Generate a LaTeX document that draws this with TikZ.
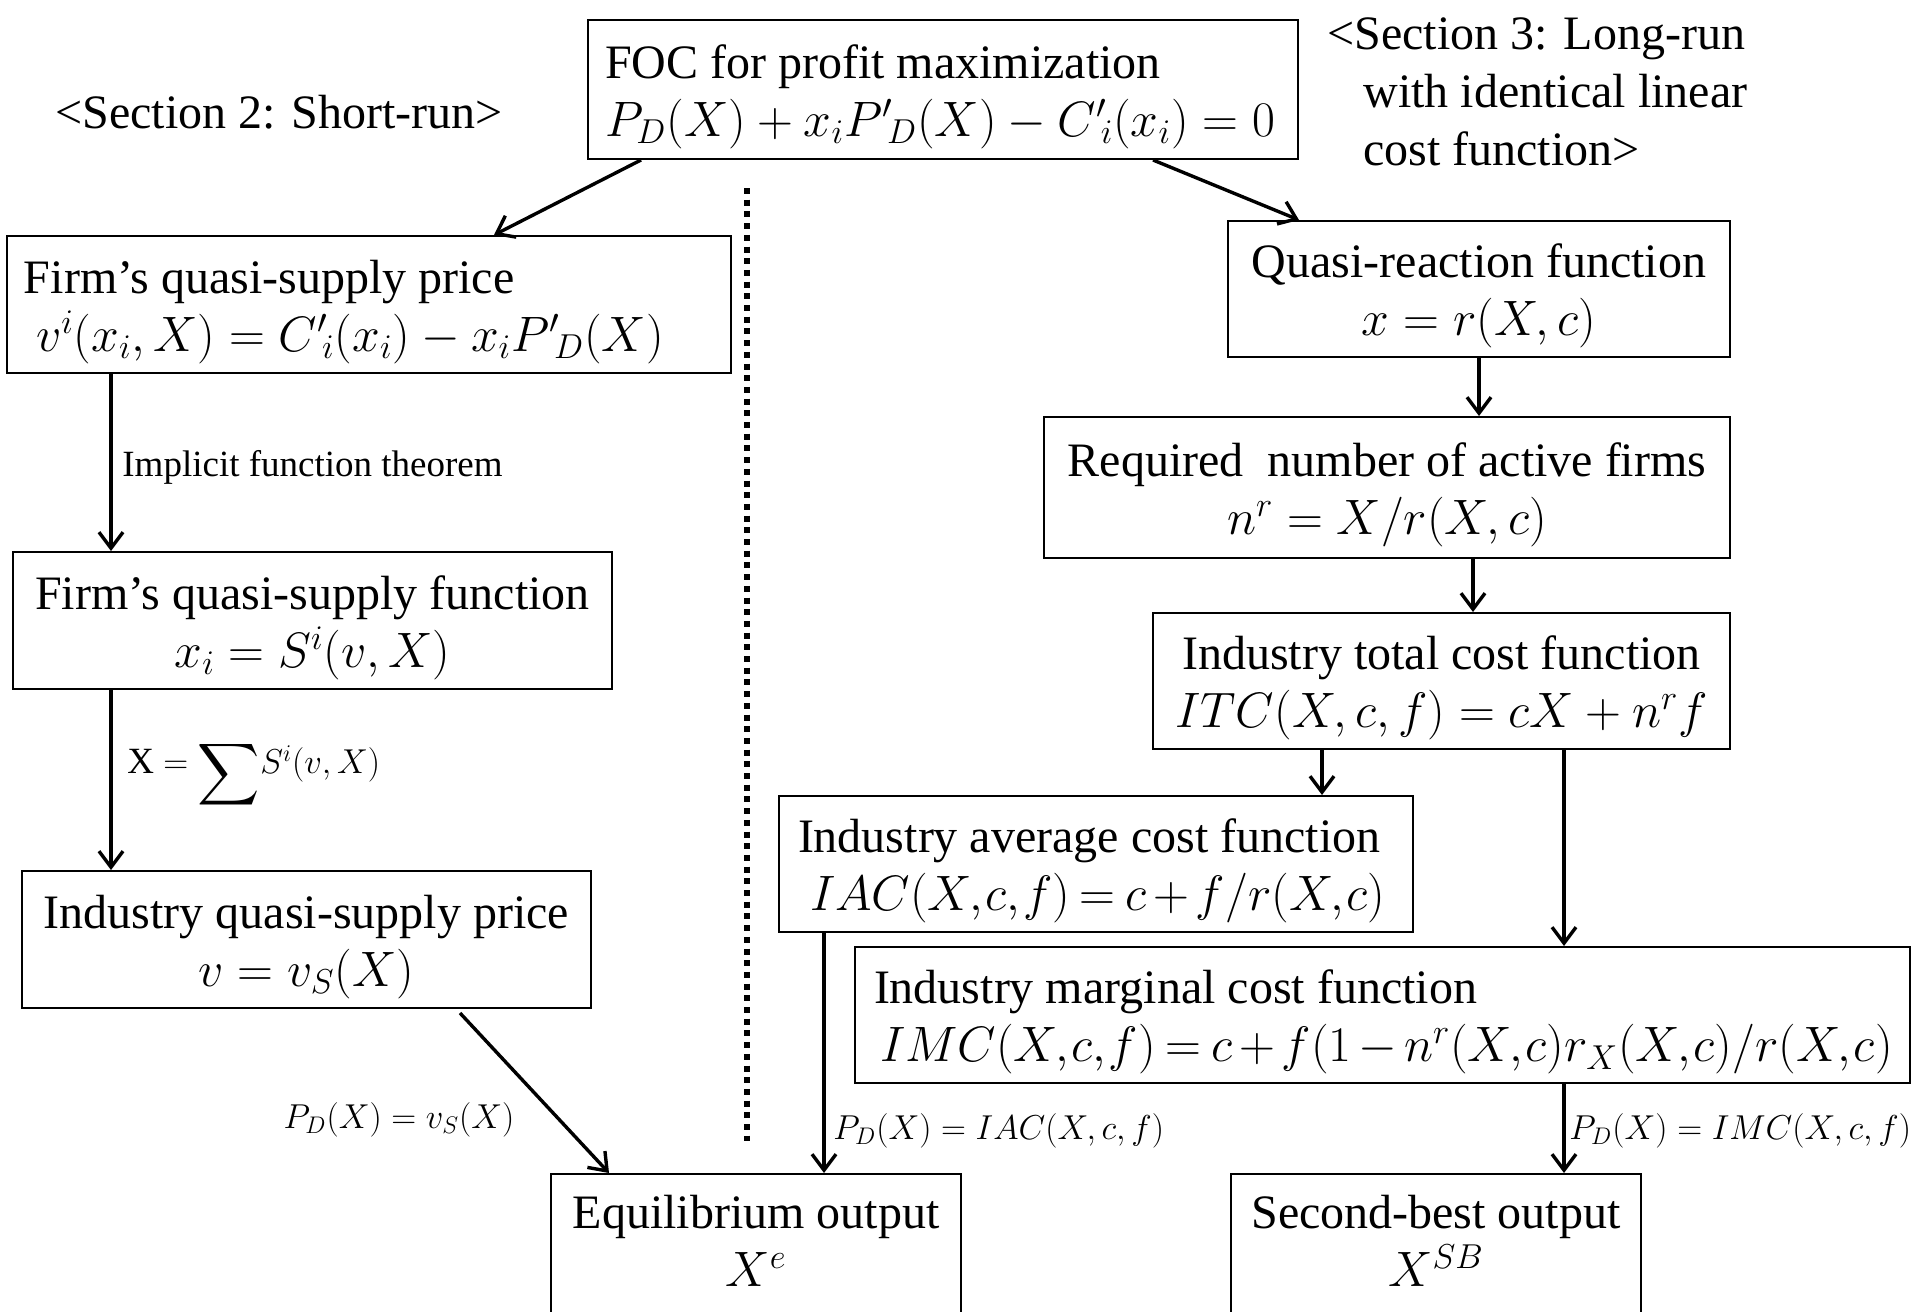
\documentclass[tikz,border=0pt]{standalone}
\usepackage{amsmath}
\usepackage{graphicx}
\usepackage{fontspec}
\setmainfont{Liberation Serif}
\usetikzlibrary{arrows.meta,calc}
\newcommand\mainsz{\fontsize{24}{29}\selectfont}
\newcommand\lblsz{\fontsize{18.5}{22}\selectfont}
\newcommand\topstrut{\rule{0pt}{24pt}}
\newcommand\tightmath{\thinmuskip=1mu \medmuskip=2.5mu \thickmuskip=3.5mu}
\begin{document}
\begin{tikzpicture}[x=0.5pt,y=-0.5pt,
  box/.style={draw, line width=1pt, font=\mainsz, inner ysep=0pt},
  lbox/.style={box, align=flush left, inner xsep=8.5pt},
  cbox/.style={box, align=center, inner xsep=0pt},
  arr/.style={line width=1.7pt, -{Straight Barb[length=8pt,width=12pt]}},
  lbl/.style={font=\lblsz, inner sep=0pt},
  sect/.style={font=\mainsz, inner sep=0pt, align=left}]
\clip (0,0) rectangle (1920,1311);
\fill[white] (0,0) rectangle (1920,1311);

% section titles
\node[sect] (sec2) at (279,112) {<Section 2: Short-run>};
\node[sect, anchor=west] (sec3) at (1327,92) {<Section 3: Long-run\\ \hspace*{18pt}with identical linear\\ \hspace*{18pt}cost function>};

% boxes
\node[lbox, text width=338pt, minimum height=69.5pt] (foc) at (943,89.5)
  {\topstrut FOC for profit maximization\\ \mbox{$P_D(X) + x_i{P'}_{\!D}(X) - {C'}_{\!i}(x_i) = 0$}};
\node[lbox, text width=345pt, minimum height=68.5pt] (fprice) at (369,304.5)
  {\topstrut Firm’s quasi-supply price\\ \mbox{\hspace*{6pt}$v^i(x_i,X) = {C'}_{\!i}(x_i) - x_i{P'}_{\!D}(X)$}};
\node[cbox, minimum width=299.5pt, minimum height=68.5pt] (ffunc) at (312.5,620.5)
  {\topstrut Firm’s quasi-supply function\\ $x_i = S^i(v,X)$};
\node[cbox, minimum width=284.5pt, minimum height=68.5pt] (indsup) at (306.5,939.5)
  {\topstrut Industry quasi-supply price\\ $v = v_S(X)$};
\node[box, anchor=north, inner sep=0pt, minimum width=205pt] (eq) at (756,1173)
  {\parbox[c][90pt][t]{205pt}{\vspace*{10.5pt}\centering Equilibrium output\\ $X^e$}};

\node[cbox, minimum width=251pt, minimum height=68pt] (qr) at (1479,289)
  {\topstrut Quasi-reaction function\\ $x = r(X,c)$};
\node[cbox, minimum width=343pt, minimum height=70.5pt] (req) at (1387,487.5)
  {\topstrut Required\ \ number of active firms\\ $n^r = X/r(X,c)$};
\node[cbox, minimum width=288.5pt, minimum height=68pt] (itc) at (1441.5,681)
  {\topstrut Industry total cost function\\ $ITC(X,c,f) = cX + n^r f$};
\node[lbox, inner xsep=9.5pt, text width=298pt, minimum height=68pt] (iac) at (1096,864)
  {\topstrut Industry average cost function\\ \mbox{\hspace*{6pt}\tightmath$IAC(X,c,f) = c + f/r(X,c)$}};
\node[lbox, inner xsep=9.5pt, text width=508.5pt, minimum height=68pt] (imc) at (1382.5,1015)
  {\topstrut Industry marginal cost function\\ \mbox{\hspace*{3pt}\tightmath$IMC(X,c,f) = c + f(1 - n^r(X,c)r_X(X,c)/r(X,c)$}};
\node[box, anchor=north, inner sep=0pt, minimum width=205pt] (sb) at (1436,1173)
  {\parbox[c][90pt][t]{205pt}{\vspace*{10.5pt}\centering Second-best output\\ $X^{SB}$}};

% divider
\draw[line width=3pt, dash pattern=on 3pt off 2.85pt] (747,188) -- (747,1141);

% connector anchor points
\coordinate (c1) at ($(req.south)+(86,0)$);
\coordinate (c2) at ($(itc.south west)+(170,0)$);
\coordinate (c3) at ($(itc.south west)+(412,0)$);
\coordinate (c4) at ($(iac.south west)+(46,0)$);
\coordinate (c5) at ($(imc.south west)+(710,0)$);
\coordinate (c6) at ($(fprice.south west)+(105,0)$);
\coordinate (c7) at ($(ffunc.south west)+(99,0)$);

% connectors
\draw[arr] ($(foc.south west)+(54,0)$) -- ($(fprice.north west)+(488,0)$);
\draw[arr] ($(foc.south west)+(566,0)$) -- ($(qr.north west)+(72,0)$);
\draw[arr] (qr.south) -- (qr.south |- req.north);
\draw[arr] (c1) -- (c1 |- itc.north);
\draw[arr] (c2) -- (c2 |- iac.north);
\draw[arr] (c3) -- (c3 |- imc.north);
\draw[arr] (c4) -- (c4 |- eq.north);
\draw[arr] (c5) -- (c5 |- sb.north);
\draw[arr] (c6) -- (c6 |- ffunc.north);
\draw[arr] (c7) -- (c7 |- indsup.north);
\draw[arr] ($(indsup.south west)+(439,4)$) -- ($(eq.north west)+(59,0)$);

% connector labels
\node[lbl, anchor=west] (limp) at (122,467) {Implicit function theorem};
\node[lbl, anchor=west] (lsum) at (127,775) {X $=\raisebox{-6pt}{\scalebox{1.25}{$\displaystyle\sum$}}S^i(v,X)$};
\node[lbl] (lvs) at (399,1120) {$P_D(X) = v_S(X)$};
\node[lbl, anchor=west] (liac) at (833,1131) {$P_D(X) = IAC(X,c,f)$};
\node[lbl, anchor=west] (limc) at (1569,1131) {$P_D(X) = IMC(X,c,f)$};
\end{tikzpicture}
\end{document}
